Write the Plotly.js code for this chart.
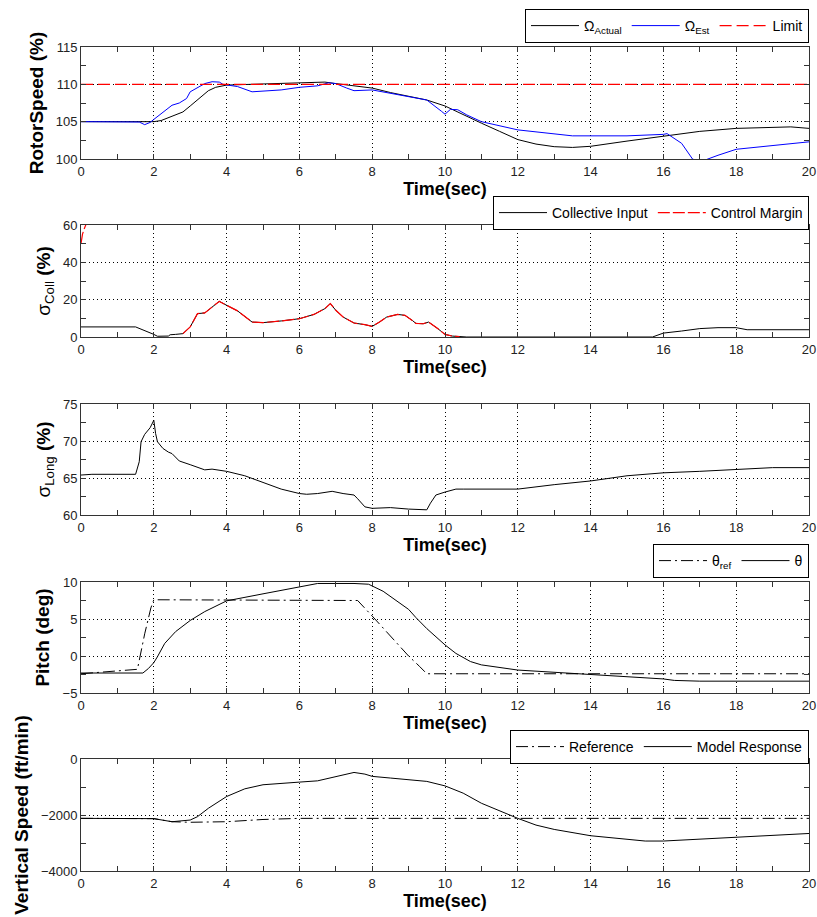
<!DOCTYPE html>
<html>
<head>
<meta charset="utf-8">
<script src="https://cdn.plot.ly/plotly-3.0.1.min.js"></script>
<style>html,body{margin:0;padding:0;background:#fff}#chart{width:817px;height:917px}</style>
</head>
<body>
<div id="chart"></div>
<script>
// ---- Rotor speed (%) ----
const rotorActualT = [0,1.5,2,2.2,2.5,2.8,3,3.3,3.5,3.7,4,5,6,6.7,7,7.5,8,8.5,9,9.5,10,10.5,11,11.5,12,12.5,13,13.5,14,15,16,17,18,19,19.5,20];
const rotorActual  = [105,105,105,105.15,105.7,106.3,107.1,108.3,109.15,109.6,109.9,110.05,110.2,110.3,110.1,109.8,109.5,108.9,108.35,107.9,107.1,105.9,104.8,103.7,102.6,102,101.65,101.55,101.7,102.4,103.1,103.7,104.1,104.3,104.3,104.1];
const rotorEstT = [0,1.5,1.6,1.75,1.9,2.0,2.2,2.4,2.5,2.7,2.9,3.0,3.2,3.4,3.6,3.8,3.9,4.0,4.3,4.7,5.0,5.5,6.0,6.5,6.8,7.0,7.3,7.5,8.0,8.5,9,9.5,9.9,10,10.15,10.35,10.6,11,12,13,13.5,14,15,16,16.1,16.5,16.8,17.0,17.2,17.5,18,19,20];
const rotorEst  = [105,105,104.95,104.6,104.9,105.3,106.1,106.8,107.2,107.5,108.1,109.0,109.6,110.1,110.35,110.3,110,109.9,109.7,109.0,109.1,109.25,109.6,109.8,110.2,110.1,109.5,109.15,109.25,108.8,108.3,107.9,106.4,106.0,106.65,106.6,105.9,105.0,103.9,103.3,103.1,103.1,103.1,103.3,103.4,102.1,100.0,99.6,100.0,100.5,101.3,101.8,102.3];
const limitT = [0,20];
const limitVal = [110,110];

// ---- Collective (%) ----
const collT = [0,1.5,2,2.1,2.4,2.45,2.6,2.8,3.0,3.2,3.4,3.6,3.8,4.0,4.3,4.7,5.0,5.5,6.0,6.4,6.7,6.85,7.0,7.2,7.5,7.8,8.0,8.2,8.4,8.7,8.9,9.1,9.2,9.4,9.55,9.8,10,10.2,10.4,10.6,15.7,16,16.5,17,17.5,18,18.3,19,20];
const collVal = [5.4,5.4,1.4,0.4,0.5,1.2,1.4,1.8,5.4,12.5,12.9,16,19.1,17,14,8,7.7,8.6,9.8,12.1,15.2,17.9,14.3,10.7,7.5,6.6,5.7,8,10.7,12.1,11.6,8.9,7.3,7.1,8,4.5,1.4,0.5,0.2,0,0,2.1,3.2,4.5,5,5,3.9,3.9,3.9];
const marginT = [0,0.04,0.09,0.15,null,2.8,3.0,3.2,3.4,3.6,3.8,4.0,4.3,4.7,5.0,5.5,6.0,6.4,6.7,6.85,7.0,7.2,7.5,7.8,8.0,8.2,8.4,8.7,8.9,9.1,9.2,9.4,9.55,9.8,10,10.2,10.4];
const marginVal = [50,55,58,61,null,1.8,5.4,12.5,12.9,16,19.1,17,14,8,7.7,8.6,9.8,12.1,15.2,17.9,14.3,10.7,7.5,6.6,5.7,8,10.7,12.1,11.6,8.9,7.3,7.1,8,4.5,1.4,0.5,0.2];

// ---- Longitudinal (%) ----
const longT = [0,0.3,1.5,1.6,1.65,1.75,1.9,2.0,2.05,2.1,2.25,2.4,2.5,2.7,3.0,3.4,3.6,4.0,4.5,5.0,5.5,6.0,6.2,6.5,6.9,7.2,7.5,7.6,7.8,8,8.5,9,9.5,9.6,9.75,10,10.3,10.5,11,12,13,14,15,16,17,18,19,20];
const longVal = [65.4,65.5,65.5,67.2,69.9,70.9,71.8,72.8,71,69.9,69,68.5,68.3,67.3,66.8,66.1,66.2,65.9,65.3,64.4,63.5,62.9,62.8,62.9,63.2,62.9,62.7,62.2,61.1,60.9,61,60.8,60.7,61.6,62.7,63.1,63.5,63.5,63.5,63.5,64.1,64.6,65.3,65.7,65.9,66.1,66.4,66.4];

// ---- Pitch (deg) ----
const thetaRefT = [0,1.55,1.75,1.92,2.0,7.5,7.6,8.0,8.7,9.0,9.3,9.5,20];
const thetaRef  = [-2.4,-1.8,3,6.5,7.6,7.6,7.5,5.4,1.7,0,-1.4,-2.4,-2.4];
const thetaT = [0,1.7,1.85,2.0,2.1,2.3,2.6,3.0,3.4,4,5,6,6.5,7.5,7.9,8.3,8.7,9,9.2,9.5,10,10.3,10.7,11,12,13,14,15,16,16.3,17,20];
const theta  = [-2.3,-2.3,-1.7,-0.9,-0.1,1.7,3.3,4.8,6.0,7.45,8.4,9.4,9.8,9.8,9.7,8.75,7.4,6.3,5.2,3.7,1.5,0.35,-0.75,-1.2,-1.9,-2.2,-2.6,-2.9,-3.1,-3.3,-3.4,-3.4];

// ---- Vertical speed (ft/min) ----
const vsRefT = [0,2,2.5,3,4,5,6,20];
const vsRef  = [-2120,-2130,-2240,-2260,-2240,-2160,-2120,-2120];
const vsModelT = [0,2,2.5,3,3.2,3.5,4,4.5,5,5.5,6,6.5,7,7.5,7.8,8,8.5,9,9.5,10,10.5,11,11.5,12,12.5,13,14,15,15.5,16,17,18,19,20];
const vsModel  = [-2120,-2130,-2240,-2180,-2060,-1760,-1340,-1065,-920,-885,-825,-780,-620,-480,-540,-620,-680,-740,-800,-960,-1220,-1580,-1860,-2120,-2360,-2515,-2740,-2875,-2930,-2930,-2860,-2780,-2720,-2660];

const FONT = 'Liberation Sans, Arial, Helvetica, sans-serif';
const DASHDOT = '12px,4px,2px,4px';

const traces = [
  {x: rotorActualT, y: rotorActual, name: 'Ω<sub>Actual</sub>', xaxis: 'x', yaxis: 'y', legend: 'legend', line: {color: '#000', width: 1}},
  {x: rotorEstT, y: rotorEst, name: 'Ω<sub>Est</sub>', xaxis: 'x', yaxis: 'y', legend: 'legend', line: {color: '#0000ff', width: 1}},
  {x: limitT, y: limitVal, name: 'Limit', xaxis: 'x', yaxis: 'y', legend: 'legend', line: {color: '#ff0000', width: 1.2, dash: '12px,5px'}},

  {x: collT, y: collVal, name: 'Collective Input', xaxis: 'x2', yaxis: 'y2', legend: 'legend2', line: {color: '#000', width: 1}},
  {x: marginT, y: marginVal, name: 'Control Margin', xaxis: 'x2', yaxis: 'y2', legend: 'legend2', connectgaps: false, line: {color: '#ff0000', width: 1.2, dash: '12px,3px'}},

  {x: longT, y: longVal, name: 'σLong', xaxis: 'x3', yaxis: 'y3', showlegend: false, line: {color: '#000', width: 1}},

  {x: thetaRefT, y: thetaRef, name: 'θ<sub>ref</sub>', xaxis: 'x4', yaxis: 'y4', legend: 'legend4', line: {color: '#000', width: 1, dash: DASHDOT}},
  {x: thetaT, y: theta, name: 'θ', xaxis: 'x4', yaxis: 'y4', legend: 'legend4', line: {color: '#000', width: 1}},

  {x: vsRefT, y: vsRef, name: 'Reference', xaxis: 'x5', yaxis: 'y5', legend: 'legend5', line: {color: '#000', width: 1, dash: DASHDOT}},
  {x: vsModelT, y: vsModel, name: 'Model Response', xaxis: 'x5', yaxis: 'y5', legend: 'legend5', line: {color: '#000', width: 1}}
].map(t => Object.assign({type: 'scatter', mode: 'lines', hoverinfo: 'skip'}, t));

function xax(anchor) {
  return {
    anchor: anchor, domain: [0, 1], range: [0, 20], dtick: 2, tick0: 0,
    showline: true, linecolor: '#333', linewidth: 1, mirror: 'ticks',
    ticks: 'inside', ticklen: 5, tickcolor: '#333',
    minor: {dtick: 1, ticks: 'inside', ticklen: 5, tickcolor: '#333', showgrid: false},
    showgrid: true, gridcolor: '#000', gridwidth: 1, griddash: '1px,3px',
    zeroline: false, tickfont: {family: FONT, size: 13, color: '#222'},
    title: {text: '<b>Time(sec)</b>', font: {family: FONT, size: 18, color: '#000'}, standoff: 3},
    automargin: false, fixedrange: true
  };
}
function yax(anchor, dom, range, dtick, minor, titleText, standoff) {
  return {
    anchor: anchor, domain: dom, range: range, dtick: dtick, tick0: range[0],
    showline: true, linecolor: '#333', linewidth: 1, mirror: 'ticks',
    ticks: 'inside', ticklen: 5, tickcolor: '#333',
    minor: {dtick: minor, ticks: 'inside', ticklen: 5, tickcolor: '#333', showgrid: false},
    showgrid: true, gridcolor: '#000', gridwidth: 1, griddash: '1px,3px',
    zeroline: false, tickfont: {family: FONT, size: 13, color: '#222'},
    title: {text: titleText, font: {family: FONT, size: 19, color: '#000'}, standoff: standoff},
    automargin: false, fixedrange: true
  };
}
function H(py) { return 1 - py / 917; }

function legendBox(yTop) {
  return {
    x: 1, xanchor: 'right', xref: 'paper', y: yTop, yanchor: 'top', yref: 'paper',
    orientation: 'h', bgcolor: '#fff', bordercolor: '#000', borderwidth: 1, itemwidth: 48,
    font: {family: FONT, size: 14, color: '#000'}, itemclick: false, itemdoubleclick: false
  };
}

const layout = {
  width: 817, height: 917,
  margin: {l: 81, r: 8, t: 0, b: 0},
  paper_bgcolor: '#fff', plot_bgcolor: '#fff',
  font: {family: FONT, color: '#000'},
  xaxis: xax('y'), xaxis2: xax('y2'), xaxis3: xax('y3'), xaxis4: xax('y4'), xaxis5: xax('y5'),
  yaxis: yax('x', [H(159), H(47)], [100, 115], 5, 2.5, '<b>RotorSpeed (%)</b>', 7),
  yaxis2: yax('x2', [H(337), H(225)], [0, 60], 20, 10, 'σ<sub>Coll</sub> <b>(%)</b>', 7),
  yaxis3: yax('x3', [H(515), H(404)], [60, 75], 5, 2.5, 'σ<sub>Long</sub> <b>(%)</b>', 7),
  yaxis4: yax('x4', [H(693), H(582)], [-5, 10], 5, 2.5, '<b>Pitch (deg)</b>', 7),
  yaxis5: yax('x5', [H(871), H(759)], [-4000, 0], 2000, 1000, '<b>Vertical Speed (ft/min)</b>', 7),
  legend: legendBox(H(9)),
  legend2: legendBox(H(196)),
  legend4: legendBox(H(544)),
  legend5: legendBox(H(730)),
  showlegend: true
};

Plotly.newPlot('chart', traces, layout, {displayModeBar: false, staticPlot: true});
</script>
</body>
</html>
